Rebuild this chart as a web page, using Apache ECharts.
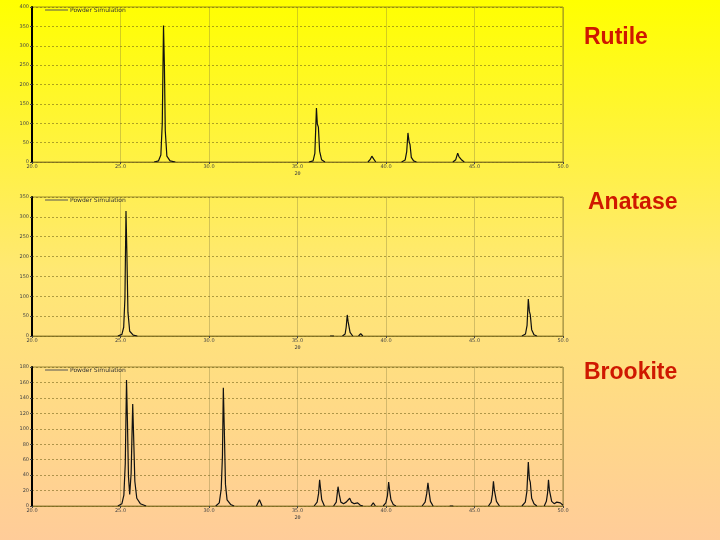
<!DOCTYPE html>
<html>
<head>
<meta charset="utf-8">
<script src="https://cdn.jsdelivr.net/npm/echarts@6/dist/echarts.min.js"></script>
<style>
html,body{margin:0;padding:0;}
#chart{width:720px;height:540px;background:linear-gradient(to bottom,#FFFF00 0%,#FFE873 50%,#FFCC99 100%);}
</style>
</head>
<body>
<div id="chart"></div>
<script>
// 2-theta tick labels (degrees) shared by all three panels
const xMin = 20, xMax = 50, xStep = 5;
const panelNames = ['Rutile', 'Anatase', 'Brookite'];
const legendText = 'Powder Simulation';
const axisName = '2\u03b8';
const yMax = [400, 350, 180];
const yStep = [50, 50, 20];

// Rutile pattern: [2theta, intensity]; null separates peak groups
const rutile = [
  [26.9,0],[27.15,3],[27.28,18],[27.36,100],[27.43,352],[27.48,250],[27.53,80],[27.62,15],[27.8,3],[28.1,0], null,
  [35.65,0],[35.88,3],[35.98,22],[36.07,139],[36.12,98],[36.18,90],[36.25,28],[36.36,6],[36.55,0], null,
  [38.98,0],[39.1,6],[39.2,15],[39.3,8],[39.42,0], null,
  [40.88,0],[41.08,5],[41.17,27],[41.24,75],[41.3,54],[41.36,44],[41.43,12],[41.56,3],[41.72,0], null,
  [43.78,0],[43.94,6],[44.05,23],[44.12,14],[44.18,17],[44.28,5],[44.42,0]
];

// Anatase pattern
const anatase = [
  [24.85,0],[25.08,4],[25.18,22],[25.25,95],[25.31,315],[25.36,210],[25.42,60],[25.52,12],[25.72,2],[25.95,0], null,
  [36.84,0],[36.95,5],[37.06,0], null,
  [37.54,0],[37.69,5],[37.75,22],[37.81,53],[37.86,36],[37.9,31],[37.97,9],[38.12,0], null,
  [38.45,0],[38.57,6],[38.69,0], null,
  [47.68,0],[47.88,5],[47.97,27],[48.04,93],[48.1,62],[48.15,54],[48.23,16],[48.36,3],[48.52,0]
];

// Brookite pattern
const brookite = [
  [24.85,0],[25.08,3],[25.19,14],[25.27,55],[25.34,163],[25.39,112],[25.45,38],[25.52,15],[25.6,42],[25.69,132],[25.74,92],[25.81,32],[25.92,10],[26.12,3],[26.45,0], null,
  [30.38,0],[30.58,4],[30.69,22],[30.76,65],[30.81,153],[30.86,104],[30.93,28],[31.02,8],[31.22,2],[31.42,0], null,
  [32.68,0],[32.85,8],[33.0,0], null,
  [35.94,0],[36.11,5],[36.19,16],[36.25,34],[36.3,23],[36.37,8],[36.52,0], null,
  [37.04,0],[37.19,5],[37.29,25],[37.36,15],[37.45,5],[37.6,3],[37.75,5],[37.95,10],[38.05,5],[38.2,3],[38.4,4],[38.55,1],[38.7,0], null,
  [39.15,0],[39.28,4],[39.4,0], null,
  [39.84,0],[39.99,4],[40.08,13],[40.15,31],[40.2,21],[40.28,8],[40.41,2],[40.56,0], null,
  [42.04,0],[42.21,5],[42.3,16],[42.37,30],[42.43,19],[42.51,6],[42.66,0], null,
  [43.6,0],[43.7,1],[43.8,0], null,
  [45.79,0],[45.94,5],[46.01,15],[46.07,32],[46.12,21],[46.17,19],[46.24,6],[46.41,0], null,
  [47.68,0],[47.87,5],[47.96,19],[48.04,57],[48.1,35],[48.15,31],[48.23,10],[48.36,3],[48.52,0], null,
  [48.94,0],[49.06,6],[49.13,17],[49.18,34],[49.23,21],[49.28,19],[49.36,6],[49.5,3],[49.65,5],[49.75,6],[49.85,4],[50.0,1]
];

const patterns = [rutile, anatase, brookite];

const gridBoxes = [
  {left: 32, top: 7, width: 531, height: 155},
  {left: 32, top: 197, width: 531, height: 139},
  {left: 32, top: 367, width: 531, height: 139}
];
const labelPos = [
  {x: 584, y: 38},
  {x: 588, y: 203},
  {x: 584, y: 373}
];

const chart = echarts.init(document.getElementById('chart'), null, {renderer: 'canvas'});

const option = {
  backgroundColor: 'transparent',
  animation: false,
  grid: gridBoxes.map(g => Object.assign({
    show: true, borderColor: 'rgba(120,105,30,0.75)', borderWidth: 1,
    backgroundColor: 'transparent', containLabel: false
  }, g)),
  xAxis: gridBoxes.map((g, i) => ({
    type: 'value', gridIndex: i, min: xMin, max: xMax, interval: xStep,
    name: axisName, nameLocation: 'middle', nameGap: 9,
    nameTextStyle: {fontSize: 5, color: '#444', fontFamily: 'DejaVu Sans'},
    axisLine: {show: true, lineStyle: {color: 'rgba(120,105,30,0.75)', width: 1}},
    axisTick: {show: true, length: 2, lineStyle: {color: '#444'}},
    axisLabel: {fontSize: 5, color: '#444', margin: 2, fontFamily: 'DejaVu Sans',
      formatter: v => v.toFixed(1)},
    splitLine: {show: true, lineStyle: {color: 'rgba(130,120,60,0.35)', width: 1, type: 'solid'}}
  })),
  yAxis: gridBoxes.map((g, i) => ({
    type: 'value', gridIndex: i, min: 0, max: yMax[i], interval: yStep[i],
    axisLine: {show: true, lineStyle: {color: '#000', width: 2}},
    axisTick: {show: true, length: 2, lineStyle: {color: '#444'}},
    axisLabel: {fontSize: 5, color: '#444', margin: 3, fontFamily: 'DejaVu Sans'},
    splitLine: {show: true, lineStyle: {color: 'rgba(110,95,20,0.55)', width: 1, type: [2, 2]}}
  })),
  legend: gridBoxes.map((g, i) => ({
    data: [panelNames[i]],
    left: 45, top: g.top, padding: 0,
    itemWidth: 23, itemHeight: 1, itemGap: 2,
    icon: 'rect',
    selectedMode: false,
    itemStyle: {color: '#555'},
    formatter: () => legendText,
    textStyle: {fontSize: 6, color: '#333', fontFamily: 'DejaVu Sans', padding: [0,0,0,-3]}
  })),
  series: patterns.map((d, i) => ({
    name: panelNames[i], type: 'line', xAxisIndex: i, yAxisIndex: i,
    data: d, showSymbol: false, connectNulls: false, smooth: false,
    itemStyle: {color: '#000'},
    lineStyle: {color: '#111', width: 1.2},
    z: 3
  })),
  graphic: panelNames.map((n, i) => ({
    type: 'text', x: labelPos[i].x, y: labelPos[i].y,
    style: {text: n, fill: '#CF1800', font: 'bold 23px "Liberation Sans", Arial, sans-serif',
      textAlign: 'left', textVerticalAlign: 'middle'}
  }))
};

chart.setOption(option);
</script>
</body>
</html>
